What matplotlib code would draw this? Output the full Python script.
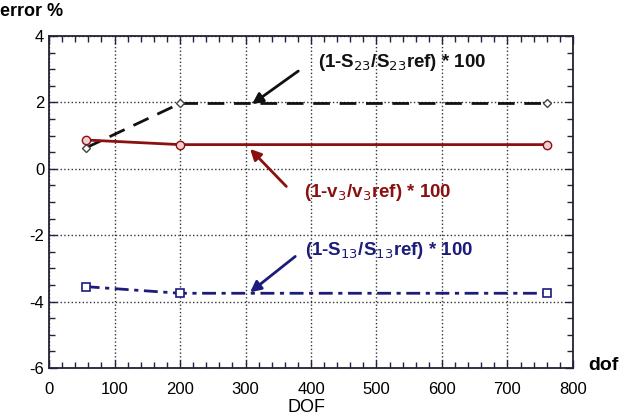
import numpy as np
import matplotlib.pyplot as plt
from matplotlib.ticker import MultipleLocator

# data
dof = [56, 200, 760]
err_s23 = [0.63, 1.97, 1.97]
err_v3 = [0.87, 0.73, 0.73]
err_s13 = [-3.55, -3.75, -3.75]

black = '#111111'
red = '#8b1010'
blue = '#1c1c7a'

plt.rcParams['font.family'] = ['Liberation Sans', 'DejaVu Sans']
plt.rcParams['axes.unicode_minus'] = False

fig = plt.figure(figsize=(6.39, 4.2), dpi=100)
ax = fig.add_axes([0.0767, 0.124, 0.82, 0.79])

ax.plot(dof, err_s23, color=black, ls=(0, (6, 3.5)), lw=2, marker='D', ms=4,
        mfc='white', mec='#444444', mew=1)
ax.plot(dof, err_v3, color=red, ls='-', lw=2, marker='o', ms=6,
        mfc='#f0d0d0', mec=red, mew=1)
ax.plot(dof, err_s13, color=blue, ls=(0, (5, 2, 1.5, 2)), lw=2, marker='s', ms=6,
        mfc='white', mec=blue, mew=1.2)

ax.set_xlim(0, 800)
ax.set_ylim(-6, 4)
ax.xaxis.set_major_locator(MultipleLocator(100))
ax.xaxis.set_minor_locator(MultipleLocator(20))
ax.yaxis.set_major_locator(MultipleLocator(2))
ax.yaxis.set_minor_locator(MultipleLocator(0.5))
ax.tick_params(which='both', direction='in', top=True, right=True,
               labelsize=12, color='#222244')
ax.tick_params(which='major', length=6, width=1)
ax.tick_params(which='minor', length=4, width=1)
ax.tick_params(axis='x', pad=10)
ax.grid(True, which='major', ls=':', color='#333333', lw=1)
for s in ax.spines.values():
    s.set_color('#222233')
    s.set_linewidth(1.3)

ax.annotate('(1-S$_{23}$/S$_{23}$ref) * 100', xy=(310, 1.95), xytext=(540, 3.2),
            ha='center', va='center', fontsize=13.5, fontweight='bold', color=black,
            arrowprops=dict(arrowstyle='-|>', color=black, lw=2, mutation_scale=16,
                            shrinkA=0, shrinkB=0, relpos=(-0.12, 0.1)))
ax.annotate('(1-v$_3$/v$_3$ref) * 100', xy=(307, 0.6), xytext=(502, -0.72),
            ha='center', va='center', fontsize=13.5, fontweight='bold', color=red,
            arrowprops=dict(arrowstyle='-|>', color=red, lw=2, mutation_scale=16,
                            shrinkA=0, shrinkB=0, relpos=(-0.12, 0.8)))
ax.annotate('(1-S$_{13}$/S$_{13}$ref) * 100', xy=(307, -3.72), xytext=(520, -2.45),
            ha='center', va='center', fontsize=13.5, fontweight='bold', color=blue,
            arrowprops=dict(arrowstyle='-|>', color=blue, lw=2, mutation_scale=16,
                            shrinkA=0, shrinkB=0, relpos=(-0.06, 0.2)))

fig.text(0.0, 0.972, 'error %', fontsize=13, fontweight='bold', ha='left', va='center')
fig.text(0.92, 0.13, 'dof', fontsize=14, fontweight='bold', ha='left', va='center')
fig.text(0.45, 0.03, 'DOF', fontsize=13, ha='left', va='center')

fig.savefig('out.png', dpi=100)
